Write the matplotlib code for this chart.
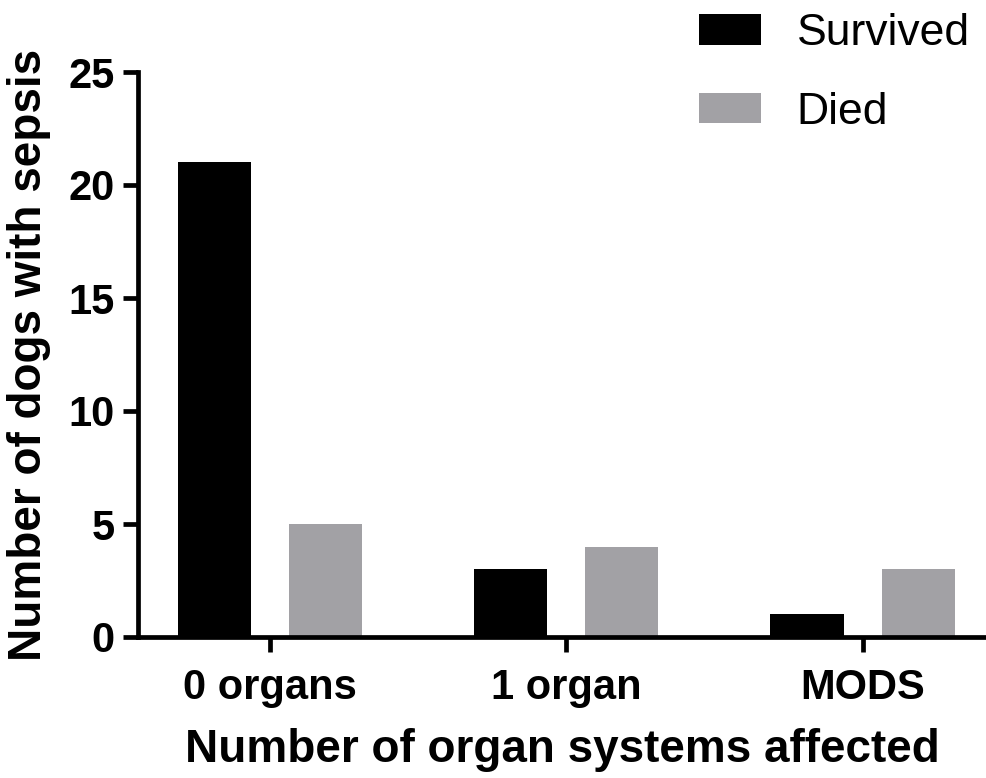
import matplotlib
matplotlib.use("Agg")
import matplotlib.pyplot as plt
import numpy as np

categories = ["0 organs", "1 organ", "MODS"]
survived = [21, 3, 1]
died = [5, 4, 3]
series_labels = ["Survived", "Died"]
y_ticks = [0, 5, 10, 15, 20, 25]

plt.rcParams["font.family"] = ["Liberation Sans", "DejaVu Sans"]

fig = plt.figure(figsize=(9.87, 7.78), dpi=100)
ax = fig.add_axes([138 / 987, 1 - 637 / 778, 1 - 138 / 987, (637 - 72) / 778])

x = np.arange(len(categories))
width = 0.247
offset = 0.1875
ax.bar(x - offset, survived, width, color="#000000", label=series_labels[0])
ax.bar(x + offset, died, width, color="#a2a1a5", label=series_labels[1])

ax.set_xlim(-0.446, 2.42)
ax.set_ylim(0, 25)
ax.set_yticks(y_ticks)
ax.set_xticks(x)
ax.set_xticklabels(categories)

for side in ("top", "right"):
    ax.spines[side].set_visible(False)
for side in ("left", "bottom"):
    ax.spines[side].set_linewidth(3.4)
    ax.spines[side].set_capstyle("projecting")

ax.tick_params(axis="both", length=11, width=3.4, labelsize=30, color="black")
ax.tick_params(axis="x", pad=11)
ax.tick_params(axis="y", pad=6)
for lab in ax.get_xticklabels() + ax.get_yticklabels():
    lab.set_fontweight("bold")

ax.set_xlabel("Number of organ systems affected", fontsize=33, fontweight="bold", labelpad=15)
ax.set_ylabel("Number of dogs with sepsis", fontsize=33, fontweight="bold", labelpad=12)

fig.legend(loc="upper left", bbox_to_anchor=(690 / 987, 1 - 4 / 778), frameon=False,
           fontsize=32, handlelength=1.4, handleheight=0.68, handletextpad=0.8,
           labelspacing=0.85, borderaxespad=0, borderpad=0.2)

fig.savefig("out.png", dpi=100)
